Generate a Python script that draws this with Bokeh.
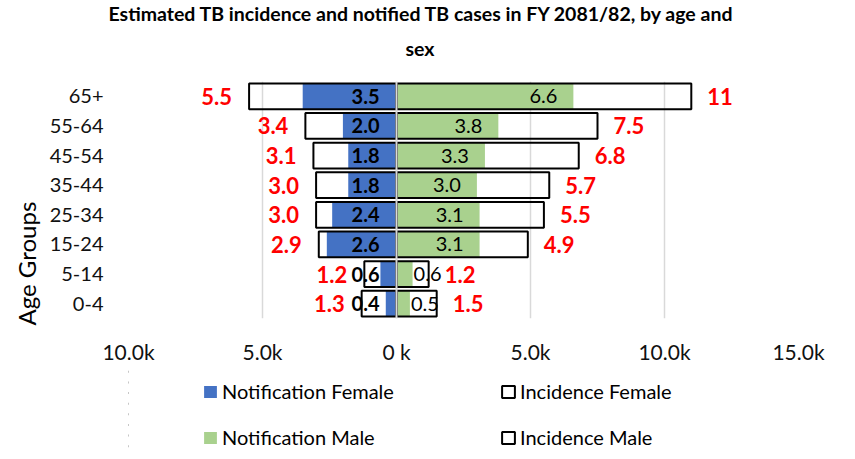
from bokeh.plotting import figure
from bokeh.layouts import column
from bokeh.models import (ColumnDataSource, FactorRange, Range1d, FixedTicker,
                          Legend, LegendItem, Span, Title)
from bokeh.core.properties import value
from bokeh.embed import file_html
from bokeh.resources import INLINE

# ---------------- data (thousands of cases) ----------------
age_groups = ["65+", "55-64", "45-54", "35-44", "25-34", "15-24", "5-14", "0-4"]
notif_female = [3.5, 2.0, 1.8, 1.8, 2.4, 2.6, 0.6, 0.4]
incid_female = [5.5, 3.4, 3.1, 3.0, 3.0, 2.9, 1.2, 1.3]
notif_male = [6.6, 3.8, 3.3, 3.0, 3.1, 3.1, 0.6, 0.5]
incid_male = [11.0, 7.5, 6.8, 5.7, 5.5, 4.9, 1.2, 1.5]
x_ticks = [-10, -5, 0, 5, 10, 15]
x_tick_labels = ["10.0k", "5.0k", "0 k", "5.0k", "10.0k", "15.0k"]
title_lines = ["Estimated TB incidence and notified TB cases in FY 2081/82, by age and", "sex"]
y_title = "Age Groups"
series_names = ["Notification Female", "Incidence Female", "Notification Male", "Incidence Male"]

FONT = "Lato"
BLUE = "#4472C4"
GREEN = "#A9D18E"
RED = "#FF0000"
GRID = "#D9D9D9"
W = 847
BAR_H = 0.87

src = ColumnDataSource(dict(
    age=age_groups,
    nf_left=[-v for v in notif_female],
    if_left=[-v for v in incid_female],
    nm=notif_male,
    im=incid_male,
))


def draw_bars(fig, source, bar_h):
    r_nf = fig.hbar(y="age", left="nf_left", right=0, height=bar_h, fill_color=BLUE,
                    line_color=None, source=source)
    r_nm = fig.hbar(y="age", left=0, right="nm", height=bar_h, fill_color=GREEN,
                    line_color=None, source=source)
    r_if = fig.hbar(y="age", left="if_left", right=0, height=bar_h, fill_color=None,
                    line_color="black", line_width=2, source=source)
    r_im = fig.hbar(y="age", left=0, right="im", height=bar_h, fill_color=None,
                    line_color="black", line_width=2, source=source)
    return r_nf, r_if, r_nm, r_im


# ================= main chart =================
p = figure(width=W, height=366, output_backend="svg", toolbar_location=None,
           x_range=Range1d(-10, 15),
           y_range=FactorRange(factors=list(reversed(age_groups)), range_padding=0),
           min_border_left=128, min_border_right=49, min_border_top=81,
           min_border_bottom=46, title=None)
p.outline_line_color = None
p.background_fill_color = "white"
p.border_fill_color = "white"

draw_bars(p, src, BAR_H)
p.add_layout(Span(location=0, dimension="height", line_color=GRID, line_width=2))

# ---------------- data labels ----------------
nf_src = ColumnDataSource(dict(x=[0] * len(age_groups), y=age_groups,
                               t=[f"{v:.1f}" for v in notif_female]))
p.text(x="x", y="y", text="t", source=nf_src, text_align="right", x_offset=-17,
       text_baseline="middle", text_font=value(FONT), text_font_style="bold",
       text_font_size="20px", text_color="black")

nm_src = ColumnDataSource(dict(
    x=notif_male, y=age_groups, t=[f"{v:.1f}" for v in notif_male],
    align=["right" if v >= 1 else "left" for v in notif_male],
    xo=[-16 if v >= 1 else 1 for v in notif_male]))
p.text(x="x", y="y", text="t", source=nm_src, text_align="align", x_offset="xo",
       text_baseline="middle", text_font=value(FONT), text_font_size="20px",
       text_color="black")

if_src = ColumnDataSource(dict(x=[-v for v in incid_female], y=age_groups,
                               t=[f"{v:.1f}" for v in incid_female]))
p.text(x="x", y="y", text="t", source=if_src, text_align="right", x_offset=-17,
       text_baseline="middle", text_font=value(FONT), text_font_style="bold",
       text_font_size="22px", text_color=RED)

im_src = ColumnDataSource(dict(x=incid_male, y=age_groups,
                               t=[f"{v:g}" for v in incid_male]))
p.text(x="x", y="y", text="t", source=im_src, text_align="left", x_offset=16,
       text_baseline="middle", text_font=value(FONT), text_font_style="bold",
       text_font_size="22px", text_color=RED)

# ---------------- axes ----------------
ticker = FixedTicker(ticks=x_ticks)
p.xaxis.ticker = ticker
p.xgrid.ticker = ticker
p.xaxis.major_label_overrides = {t: l for t, l in zip(x_ticks, x_tick_labels)}
p.xgrid.grid_line_color = GRID
p.xgrid.grid_line_width = 1.5
p.ygrid.grid_line_color = None
for ax in (p.xaxis, p.yaxis):
    ax.axis_line_color = None
    ax.major_tick_line_color = None
    ax.minor_tick_line_color = None
    ax.major_tick_out = 0
    ax.major_tick_in = 0
    ax.major_label_text_font = FONT
    ax.major_label_text_color = "#111111"
p.xaxis.major_label_text_font_size = "21px"
p.yaxis.major_label_text_font_size = "20px"
p.xaxis.major_label_standoff = 20
p.yaxis.major_label_standoff = 25

# ---------------- titles ----------------
p.add_layout(Title(text=title_lines[1], align="left", offset=277, standoff=44,
                   text_font=FONT, text_font_style="bold", text_font_size="19.5px",
                   text_color="black"), "above")
p.add_layout(Title(text=title_lines[0], align="left", offset=-20, standoff=-25,
                   text_font=FONT, text_font_style="bold", text_font_size="19.5px",
                   text_color="black"), "above")
p.add_layout(Title(text=y_title, align="left", offset=-7, standoff=12,
                   text_font=FONT, text_font_style="normal", text_font_size="24px",
                   text_color="black"), "left")

# ================= legend strip =================
# same series as flat, off-range proxies so only the legend keys show
lg = figure(width=W, height=85, output_backend="svg", toolbar_location=None,
            x_range=Range1d(100, 101), y_range=FactorRange(factors=age_groups),
            x_axis_location=None, y_axis_location=None,
            min_border_left=128, min_border_right=49, min_border_top=0,
            min_border_bottom=0, title=None)
lg.outline_line_color = None
lg.grid.grid_line_color = None
lg.background_fill_color = "white"
lr_nf, lr_if, lr_nm, lr_im = draw_bars(lg, src, 0)
lg.add_layout(Span(location=100, dimension="height", line_color="white", line_width=8))

common = dict(orientation="horizontal", glyph_width=16, glyph_height=15,
              label_standoff=4, label_width=180, label_height=20, spacing=98,
              padding=0, margin=0, border_line_color=None,
              background_fill_alpha=0, label_text_font=FONT,
              label_text_font_size="20px", label_text_color="black")
leg1 = Legend(items=[LegendItem(label=series_names[0], renderers=[lr_nf]),
                     LegendItem(label=series_names[1], renderers=[lr_if])],
              location=(74, 48), **common)
leg2 = Legend(items=[LegendItem(label=series_names[2], renderers=[lr_nm]),
                     LegendItem(label=series_names[3], renderers=[lr_im])],
              location=(74, 2), **common)
lg.add_layout(leg1)
lg.add_layout(leg2)

layout = column(p, lg, spacing=0)
open("out.html", "w").write(file_html(layout, INLINE))
